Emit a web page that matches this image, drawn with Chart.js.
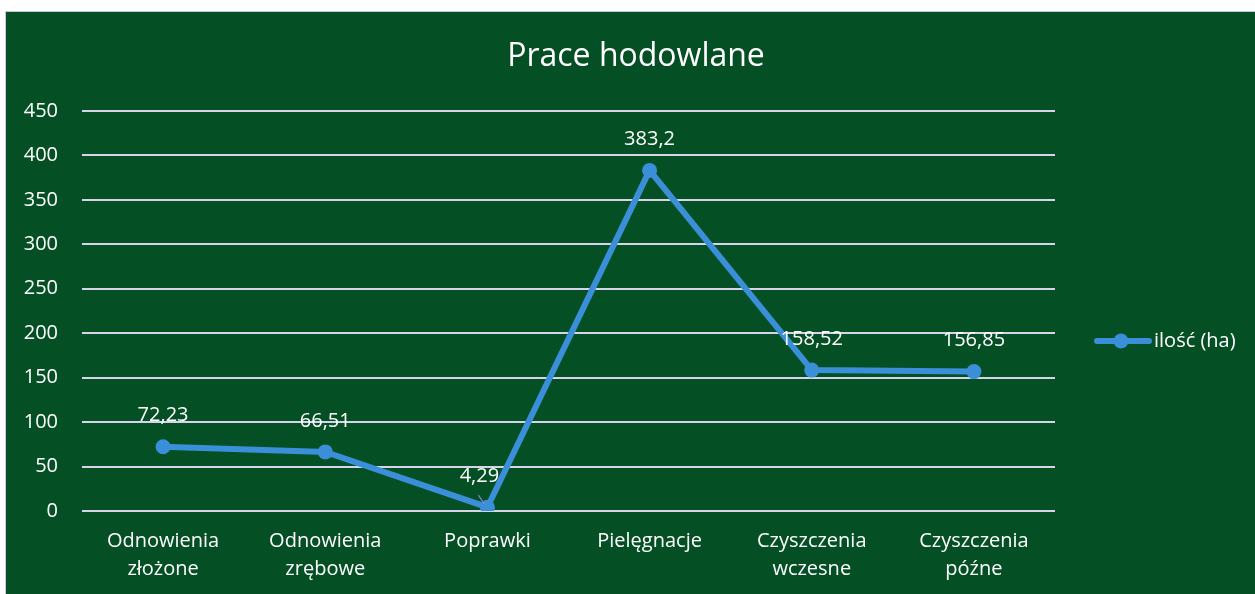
<!DOCTYPE html>
<html>
<head>
<meta charset="utf-8">
<script src="https://cdn.jsdelivr.net/npm/chart.js@4.4.1/dist/chart.umd.min.js"></script>
<style>
  html, body { margin: 0; padding: 0; background: #ffffff; }
  #wrap {
    position: absolute; left: 5px; top: 11px;
    width: 1249px; height: 582px;
    border-left: 1px solid #c9c6e4; border-top: 1px solid #c9c6e4;
    background: #044f24;
  }
  canvas { display: block; }
</style>
</head>
<body>
<div id="wrap"><canvas id="c" width="1249" height="582"></canvas></div>
<script>
const categories = [
  ["Odnowienia", "złożone"],
  ["Odnowienia", "zrębowe"],
  "Poprawki",
  "Pielęgnacje",
  ["Czyszczenia", "wczesne"],
  ["Czyszczenia", "późne"]
];
const seriesName = "ilość (ha)";
const values = [72.23, 66.51, 4.29, 383.2, 158.52, 156.85];
const chartTitle = "Prace hodowlane";
const yTicks = [0, 50, 100, 150, 200, 250, 300, 350, 400, 450];

const FONT = "'Open Sans', 'Noto Sans', sans-serif";
const LINE_COLOR = "#3a8fd8";

const overlay = {
  id: "overlay",
  afterDatasetsDraw(chart) {
    const ctx = chart.ctx;
    ctx.save();
    // data labels
    const meta = chart.getDatasetMeta(0);
    ctx.fillStyle = "#ffffff";
    ctx.font = "20px " + FONT;
    ctx.textAlign = "center";
    ctx.textBaseline = "middle";
    meta.data.forEach((pt, i) => {
      const txt = String(values[i]).replace(".", ",");
      const low = i === 2;
      ctx.fillText(txt, low ? pt.x - 8 : pt.x, pt.y - 31);
      if (low) {
        ctx.strokeStyle = "#8a7fd0";
        ctx.lineWidth = 1.2;
        ctx.beginPath();
        ctx.moveTo(pt.x - 9, pt.y - 12);
        ctx.lineTo(pt.x - 3, pt.y - 3);
        ctx.stroke();
      }
    });
    // title
    ctx.font = "32px " + FONT;
    ctx.fillText(chartTitle, 630, 45);
    // legend
    const ly = 329;
    ctx.strokeStyle = LINE_COLOR;
    ctx.lineWidth = 6;
    ctx.lineCap = "round";
    ctx.beginPath();
    ctx.moveTo(1091, ly);
    ctx.lineTo(1143, ly);
    ctx.stroke();
    ctx.fillStyle = LINE_COLOR;
    ctx.beginPath();
    ctx.arc(1115, ly, 7.5, 0, Math.PI * 2);
    ctx.fill();
    ctx.fillStyle = "#ffffff";
    ctx.textAlign = "left";
    ctx.font = "20px " + FONT;
    ctx.fillText(seriesName, 1148, ly);
    ctx.restore();
  }
};

new Chart(document.getElementById("c"), {
  type: "line",
  data: {
    labels: categories,
    datasets: [{
      label: seriesName,
      data: values,
      borderColor: LINE_COLOR,
      backgroundColor: LINE_COLOR,
      borderWidth: 6,
      pointRadius: 7.5,
      pointHoverRadius: 7.5,
      pointBackgroundColor: LINE_COLOR,
      pointBorderColor: LINE_COLOR,
      pointBorderWidth: 0,
      tension: 0,
      fill: false
    }]
  },
  options: {
    responsive: false,
    maintainAspectRatio: false,
    animation: false,
    layout: { padding: { top: 99, right: 200, left: 0, bottom: 0 } },
    plugins: {
      legend: { display: false },
      title: { display: false },
      tooltip: { enabled: false }
    },
    scales: {
      x: {
        type: "category",
        offset: true,
        grid: { display: false, drawTicks: false },
        border: { display: false },
        ticks: {
          color: "#ffffff",
          font: { family: FONT, size: 20, lineHeight: 1.4 },
          padding: 16,
          maxRotation: 0,
          autoSkip: false
        },
        afterFit(scale) { scale.height = 83; }
      },
      y: {
        min: 0,
        max: 450,
        afterBuildTicks(scale) { scale.ticks = yTicks.map(v => ({ value: v })); },
        grid: { color: "#d6d4ea", lineWidth: 2, drawTicks: false },
        border: { display: false },
        ticks: {
          color: "#ffffff",
          font: { family: FONT, size: 20 },
          padding: 24
        },
        afterFit(scale) { scale.width = 76; }
      }
    }
  },
  plugins: [overlay]
});
</script>
</body>
</html>
